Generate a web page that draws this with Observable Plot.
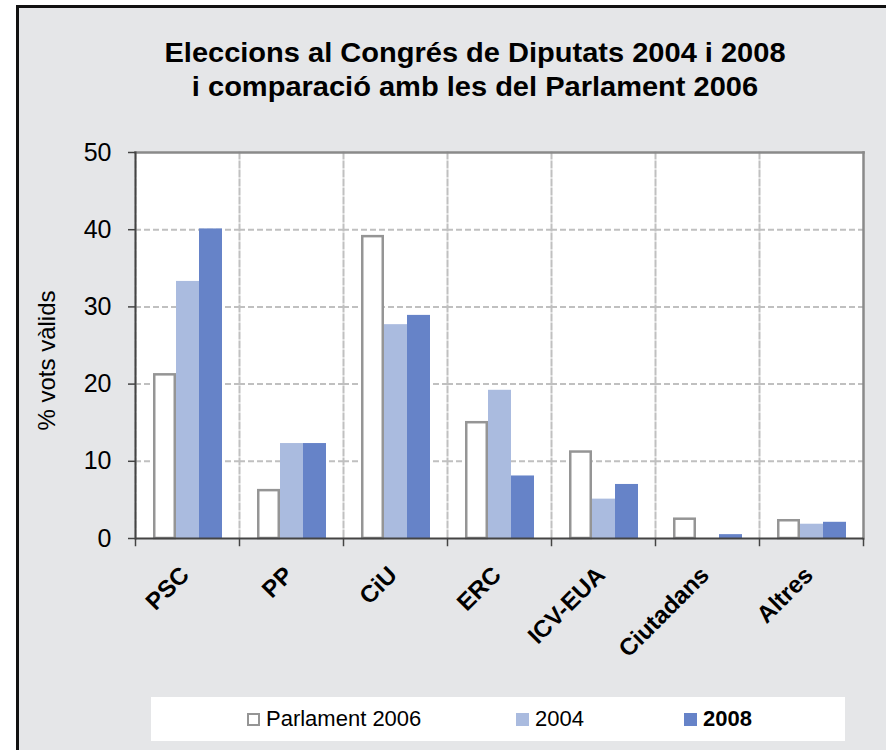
<!DOCTYPE html>
<html>
<head>
<meta charset="utf-8">
<script src="https://cdn.jsdelivr.net/npm/d3@7"></script>
<script src="https://cdn.jsdelivr.net/npm/@observablehq/plot@0.6"></script>
<style>
html,body{margin:0;padding:0;background:#fff;width:886px;height:750px;overflow:hidden;font-family:"Liberation Sans",Arial,sans-serif;}
#page{position:relative;width:886px;height:750px;overflow:hidden;}
#panel{position:absolute;left:16px;top:5px;width:900px;height:800px;background:#e5e6e8;border-left:3px solid #111;border-top:3px solid #111;}
#title{position:absolute;left:100px;width:750px;top:36px;text-align:center;font-weight:bold;font-size:27px;line-height:34px;color:#000;transform:scaleX(1.075);}
#chart{position:absolute;left:0;top:0;}
#legend{position:absolute;left:151px;top:697px;width:694px;height:44px;background:#fff;}
.item{position:absolute;top:0;height:44px;display:flex;align-items:center;font-size:22px;color:#000;}
.sw{width:13px;height:13px;margin-right:6px;box-sizing:border-box;}
</style>
</head>
<body>
<div id="page">
  <div id="panel"></div>
  <div id="title">Eleccions al Congrés de Diputats 2004 i 2008<br>i comparació amb les del Parlament 2006</div>
  <div id="chart"></div>
  <div id="legend"></div>
</div>
<script>
// ---- data ----
const parties = ["PSC", "PP", "CiU", "ERC", "ICV-EUA", "Ciutadans", "Altres"];
const series = ["Parlament 2006", "2004", "2008"];
const parlament2006 = [21.2, 6.2, 39.1, 15.0, 11.2, 2.5, 2.3];
const congres2004 = [33.3, 12.3, 27.7, 19.2, 5.1, 0, 1.85];
const congres2008 = [40.1, 12.3, 28.9, 8.1, 7.0, 0.5, 2.1];
const yTicks = [0, 10, 20, 30, 40, 50];
const yLabel = "% vots vàlids";
const fillColors = ["#ffffff", "#aabbdf", "#6683c8"];
const outlineColor = "#959595";

const valuesBySeries = [parlament2006, congres2004, congres2008];
const data = parties.flatMap((p, i) => series.map((s, j) => ({party: p, series: s, value: valuesBySeries[j][i]})));
const outlined = data.filter(d => d.series === series[0]);
const filled = data.filter(d => d.series !== series[0]);

const chart = Plot.plot({
  width: 886,
  height: 660,
  marginLeft: 135,
  marginRight: 23,
  marginTop: 152,
  marginBottom: 122,
  style: {background: "transparent", fontFamily: "'Liberation Sans', Arial, sans-serif", overflow: "visible"},
  fx: {domain: parties, padding: 0, axis: null, label: null},
  x: {domain: series, paddingInner: 0, paddingOuter: 0.73, axis: null, label: null},
  y: {domain: [0, 50], label: null},
  color: {domain: series.slice(1), range: fillColors.slice(1)},
  marks: [
    Plot.frame({facet: "super", fill: "white", stroke: "none"}),
    Plot.gridY({ticks: yTicks.slice(1, -1), stroke: "#c0c0c0", strokeOpacity: 1, strokeWidth: 2, strokeDasharray: "6,3"}),
    Plot.frame({anchor: "left", stroke: "#c0c0c0", strokeWidth: 2, strokeDasharray: "6,3"}),
    Plot.barY(outlined, {fx: "party", x: "series", y: "value", fill: fillColors[0], stroke: outlineColor, strokeWidth: 2.5, insetLeft: 1.25, insetRight: 1.25}),
    Plot.barY(filled, {fx: "party", x: "series", y: "value", fill: "series"}),
    Plot.frame({facet: "super", anchor: "top", stroke: "#8a8a8a", strokeWidth: 2.5}),
    Plot.frame({facet: "super", anchor: "right", stroke: "#8a8a8a", strokeWidth: 2.5}),
    Plot.ruleY([0], {stroke: "#444", strokeWidth: 2}),
    Plot.frame({facet: "super", anchor: "left", stroke: "#444", strokeWidth: 2}),
    Plot.frame({anchor: "left", stroke: "#444", strokeWidth: 1.5, insetTop: 386, insetBottom: -7}),
    Plot.frame({facet: "super", anchor: "right", stroke: "#444", strokeWidth: 1.5, insetTop: 386, insetBottom: -7}),
    Plot.axisY({ticks: yTicks, tickSize: 7, tickPadding: 17, fontSize: 25, stroke: "#444", strokeWidth: 1.5, fill: "black", label: null, tickFormat: d => String(d)}),
    Plot.text(parties, {fx: d => d, text: d => d, frameAnchor: "bottom", rotate: -45, textAnchor: "end", dx: 3, dy: 38, fontSize: 24, fontWeight: "bold", fill: "black"}),
    Plot.text([yLabel], {fx: () => parties[0], text: d => d, frameAnchor: "left", rotate: -90, textAnchor: "middle", dx: -88, dy: 15, fontSize: 24, fill: "black"})
  ]
});
document.getElementById("chart").appendChild(chart);

// ---- legend (HTML) ----
const legendLefts = [96, 365, 533];
const legend = document.getElementById("legend");
series.forEach((s, j) => {
  const item = document.createElement("div");
  item.className = "item";
  item.style.left = legendLefts[j] + "px";
  const sw = document.createElement("div");
  sw.className = "sw";
  sw.style.background = fillColors[j];
  if (j === 0) sw.style.border = "2.5px solid " + outlineColor;
  const label = document.createElement("span");
  label.textContent = s;
  if (j === 2) label.style.fontWeight = "bold";
  item.appendChild(sw);
  item.appendChild(label);
  legend.appendChild(item);
});
</script>
</body>
</html>
